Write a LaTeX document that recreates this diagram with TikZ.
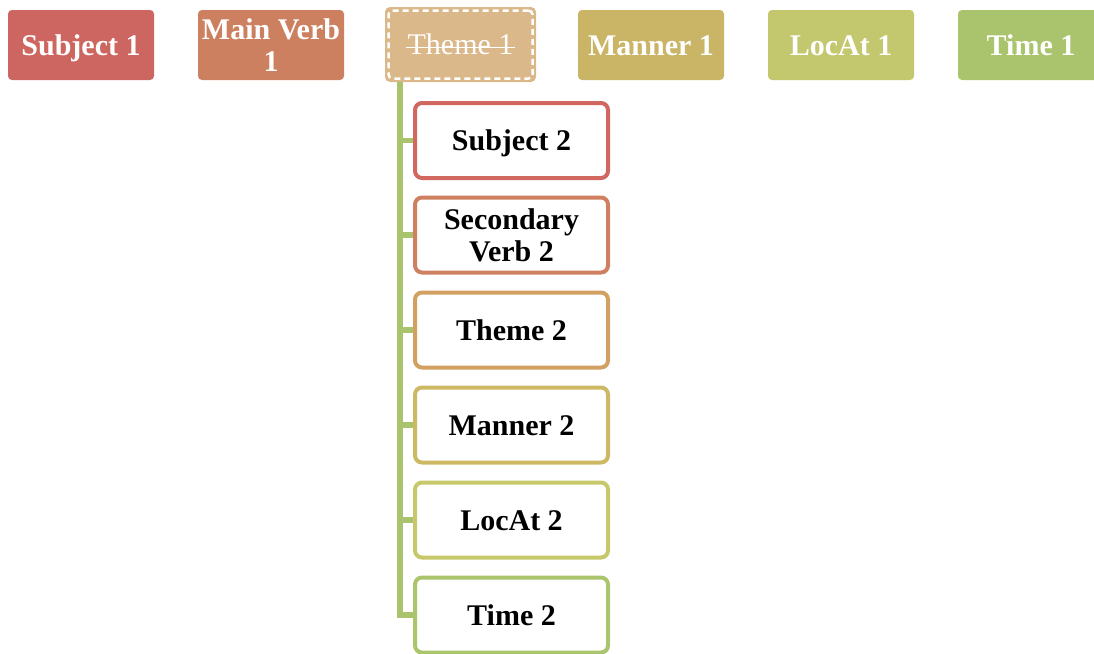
\documentclass[tikz,border=0pt]{standalone}
\usepackage{fontspec}
\setmainfont{Liberation Serif}
\pgfdeclarelayer{background}
\pgfsetlayers{background,main}

\definecolor{cA}{HTML}{CD6660}
\definecolor{cB}{HTML}{CC8060}
\definecolor{cC}{HTML}{DBB88A}
\definecolor{cD}{HTML}{CAB466}
\definecolor{cE}{HTML}{C3C76D}
\definecolor{cF}{HTML}{AAC46D}
\definecolor{bA}{HTML}{D06860}
\definecolor{bB}{HTML}{CF8060}
\definecolor{bC}{HTML}{D2A060}
\definecolor{bD}{HTML}{CDB964}
\definecolor{bE}{HTML}{C6C86A}
\definecolor{bF}{HTML}{AAC56C}
\definecolor{linkgreen}{HTML}{A9C46C}

\begin{document}
\begin{tikzpicture}[x=1pt,y=-1pt,
  labelfont/.style={font=\fontsize{30}{32}\selectfont\bfseries,
    text height=20pt, text depth=0pt},
  twolines/.style={text height=52pt, text depth=0pt},
  topbox/.style={labelfont, rounded corners=4pt, minimum width=146pt,
    minimum height=70pt, inner sep=0pt, align=center, text=white},
  subbox/.style={labelfont, draw, line width=4pt, fill=white,
    rounded corners=7pt, minimum width=193pt, minimum height=75pt,
    inner sep=0pt, align=center, text=black},
  link/.style={draw=linkgreen, line width=5.5pt}]
\useasboundingbox (0,0) rectangle (1094,653);

% top row
\node[topbox, fill=cA] (s1) at (81,45) {Subject 1};
\node[topbox, twolines, fill=cB] (v1) at (271,45) {Main Verb\\1};
\node[fill=cC, rounded corners=5pt, minimum width=151pt,
  minimum height=75pt, inner sep=0pt] (t1) at (460.5,44.5) {};
\node[draw=white, dash pattern=on 6pt off 4pt, line width=2.5pt,
  rounded corners=4pt, minimum width=144pt, minimum height=68pt,
  inner sep=0pt] (t1frame) at (t1.center) {};
\node[text=white, inner sep=0pt, font=\fontsize{30}{32}\selectfont,
  text height=20pt, text depth=0pt] (t1text) at (t1.center) {Theme 1};
% struck-out label
\draw[white, line width=1.6pt]
  ([xshift=-1pt,yshift=7pt]t1text.base west) -- ([xshift=1pt,yshift=7pt]t1text.base east);
\node[topbox, fill=cD] (m1) at (651,45) {Manner 1};
\node[topbox, fill=cE] (l1) at (841,45) {LocAt 1};
\node[topbox, fill=cF] (ti1) at (1031,45) {Time 1};

% embedded clause under Theme 1
\node[subbox, draw=bA] (s2) at (511.5,140.5) {Subject 2};
\node[subbox, twolines, draw=bB] (v2) at (511.5,235) {Secondary\\Verb 2};
\node[subbox, draw=bC] (t2) at (511.5,330) {Theme 2};
\node[subbox, draw=bD] (m2) at (511.5,425) {Manner 2};
\node[subbox, draw=bE] (l2) at (511.5,520) {LocAt 2};
\node[subbox, draw=bF] (ti2) at (511.5,615) {Time 2};

\begin{pgfonlayer}{background}
  \foreach \n in {s2,v2,t2,m2,l2,ti2}
    \draw[link] ([xshift=15pt]t1.south west) |- (\n.west);
\end{pgfonlayer}
\end{tikzpicture}
\end{document}
